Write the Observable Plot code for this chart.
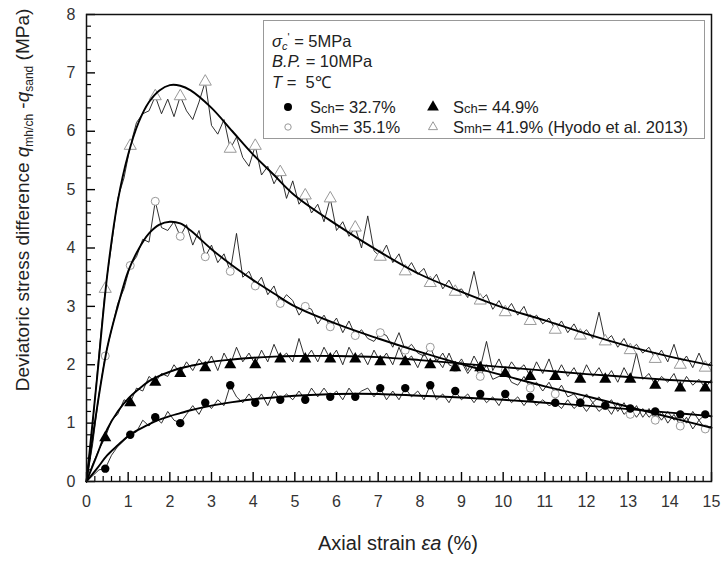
<!DOCTYPE html>
<html><head><meta charset="utf-8">
<script src="https://cdn.jsdelivr.net/npm/d3@7"></script>
<script src="https://cdn.jsdelivr.net/npm/@observablehq/plot@0.6"></script>
<style>body{margin:0;background:#fff;} svg{display:block}</style>
</head><body><div id="chart"></div>
<script>
const FONT = "'Liberation Sans', Arial, Helvetica, sans-serif";

// tick values
const xTicks = [0,1,2,3,4,5,6,7,8,9,10,11,12,13,14,15];
const yTicks = [0,1,2,3,4,5,6,7,8];
const xMinorTicks = d3.range(0, 15.001, 0.2).filter(v => Math.abs(v - Math.round(v)) > 1e-6);
const yMinorTicks = d3.range(0, 8.001, 0.2).filter(v => Math.abs(v - Math.round(v)) > 1e-6);

// measured strain grid (every 0.15 %)
const strain = d3.range(101).map(i => +(i * 0.15).toFixed(2));

// experimental traces (MPa)
const traceSmh419 = [0,1.0,2.2,3.3,4.05,4.85,5.2,5.75,6.15,6.3,
  6.35,6.6,6.3,6.55,6.25,6.6,6.35,6.2,6.5,6.85,
  6.1,5.95,6.2,5.7,5.9,5.55,5.4,5.75,5.25,5.4,
  5.1,5.3,4.85,5.15,4.75,4.9,4.6,4.75,4.45,4.85,
  4.3,4.45,4.2,4.35,4.0,4.55,3.95,3.85,4.05,3.75,
  3.9,3.6,3.75,3.55,3.65,3.4,3.55,3.3,3.45,3.25,
  3.3,3.15,3.6,3.1,3.2,2.95,3.1,2.9,3.05,2.85,
  3.0,2.75,2.85,2.7,2.8,2.6,2.75,2.55,2.7,2.5,
  2.6,2.45,2.9,2.4,2.5,2.3,2.45,2.25,2.35,2.2,
  2.3,2.1,2.25,2.05,2.35,2.0,2.15,1.95,2.2,1.95,
  2.05];
const traceSmh351 = [0,0.65,1.5,2.15,2.6,3.05,3.3,3.7,3.85,4.15,
  4.1,4.8,4.35,4.3,4.45,4.2,4.4,4.05,4.3,3.85,
  4.05,3.75,3.9,3.6,4.25,3.5,3.6,3.35,3.5,3.2,
  3.35,3.05,3.2,3.1,2.85,3.0,2.95,2.7,2.85,2.65,
  2.8,2.55,2.75,2.5,2.6,2.45,2.4,2.55,2.5,2.3,
  2.55,2.25,2.35,2.2,2.15,2.3,2.05,2.2,2.0,1.95,
  2.05,1.85,2.0,1.8,2.0,1.75,1.8,1.9,1.7,1.65,
  1.8,1.6,1.7,1.55,1.7,1.5,1.65,1.45,1.5,1.35,
  1.5,1.35,1.45,1.3,1.4,1.2,1.35,1.15,1.3,1.1,
  1.25,1.05,1.2,1.0,1.15,0.95,1.1,0.9,1.05,0.9,
  0.95];
const traceSch449 = [0,0.3,0.55,0.75,1.05,1.15,1.4,1.35,1.6,1.55,
  1.8,1.7,1.85,1.8,2.0,1.85,2.05,1.9,2.1,1.95,
  2.15,1.9,2.2,2.0,2.3,2.05,2.2,2.0,2.25,2.05,
  2.35,2.1,2.2,2.05,2.45,2.1,2.25,2.05,2.3,2.1,
  2.25,2.0,2.3,2.1,2.2,2.0,2.25,2.05,2.2,2.0,
  2.3,2.05,2.15,1.95,2.2,2.0,2.1,1.95,2.2,1.95,
  2.1,1.9,2.15,1.95,2.4,1.9,2.1,1.85,2.05,1.9,
  2.0,1.8,2.05,1.85,2.1,1.8,2.0,1.8,1.95,1.75,
  2.0,1.8,1.95,1.75,1.9,1.7,1.95,1.75,2.2,1.75,
  1.85,1.65,1.8,1.7,1.85,1.6,1.8,1.65,1.75,1.6,
  1.75];
const traceSch327 = [0,0.1,0.2,0.22,0.45,0.6,0.7,0.8,0.85,1.05,
  0.95,1.1,1.0,1.2,1.05,1.0,1.15,1.3,1.15,1.35,
  1.25,1.4,1.3,1.65,1.45,1.35,1.5,1.35,1.5,1.3,
  1.55,1.4,1.5,1.4,1.55,1.4,1.6,1.45,1.6,1.45,
  1.55,1.4,1.6,1.45,1.55,1.6,1.45,1.6,1.4,1.55,
  1.4,1.6,1.45,1.55,1.4,1.65,1.4,1.5,1.35,1.55,
  1.4,1.5,1.35,1.5,1.35,1.45,1.3,1.5,1.35,1.45,
  1.3,1.45,1.3,1.4,1.3,1.35,1.25,1.4,1.25,1.35,
  1.2,1.35,1.2,1.3,1.15,1.35,1.15,1.25,1.1,1.25,
  1.1,1.2,1.05,1.2,1.05,1.15,1.0,1.2,1.05,1.15,
  1.1];

// fitted curves
const fitStrain = [0,0.25,0.5,0.75,1,1.25,1.5,1.75,2,2.25,2.5,3,3.5,4,4.5,5,6,7,8,9,10,11,12,13,14,15];
const fitSmh419 = [0,1.75,3.55,4.8,5.6,6.15,6.5,6.7,6.79,6.78,6.7,6.4,6.0,5.6,5.25,4.9,4.4,3.95,3.55,3.25,2.98,2.76,2.53,2.32,2.14,1.99];
const fitSmh351 = [0,1.25,2.3,3.0,3.6,3.98,4.25,4.4,4.45,4.42,4.3,3.98,3.7,3.45,3.22,3.0,2.7,2.45,2.22,2.01,1.82,1.63,1.46,1.28,1.1,0.92];
const fitSch449 = [0,0.45,0.9,1.2,1.42,1.58,1.72,1.81,1.88,1.94,1.98,2.05,2.09,2.12,2.14,2.15,2.15,2.13,2.08,2.02,1.96,1.9,1.84,1.79,1.74,1.70];
const fitSch327 = [0,0.22,0.45,0.62,0.78,0.89,0.98,1.06,1.12,1.17,1.22,1.3,1.36,1.41,1.44,1.47,1.5,1.5,1.47,1.44,1.4,1.35,1.3,1.24,1.18,1.12];

const table = (xs, ys) => xs.map((x, i) => ({x, y: ys[i], i}));
const marked = rows => rows.filter(d => d.i % 4 === 3);

const tA = table(strain, traceSmh419), tB = table(strain, traceSmh351),
      tC = table(strain, traceSch449), tD = table(strain, traceSch327);

const traceStyle = {x: "x", y: "y", stroke: "#1a1a1a", strokeWidth: 0.9};
const fitStyle = {x: "x", y: "y", stroke: "#000", strokeWidth: 1.9, curve: "catmull-rom"};

const W = 724, H = 563, ML = 86, MR = 13, MT = 14, MB = 82;
const frameW = W - ML - MR, frameH = H - MT - MB;

const chart = Plot.plot({
  width: W, height: H,
  marginLeft: ML, marginRight: MR, marginTop: MT, marginBottom: MB,
  x: {domain: [0, 15]},
  y: {domain: [0, 8]},
  style: {fontFamily: FONT, fontSize: "16px", color: "#222", background: "white"},
  marks: [
    Plot.line(tA, traceStyle),
    Plot.line(tB, traceStyle),
    Plot.line(tC, traceStyle),
    Plot.line(tD, traceStyle),
    Plot.dot(marked(tA), {x: "x", y: "y", symbol: "triangle", r: 4.5, fill: "white", stroke: "#999", strokeWidth: 1}),
    Plot.dot(marked(tB), {x: "x", y: "y", symbol: "circle", r: 4, fill: "white", stroke: "#999", strokeWidth: 1}),
    Plot.line(table(fitStrain, fitSmh419), fitStyle),
    Plot.line(table(fitStrain, fitSmh351), fitStyle),
    Plot.line(table(fitStrain, fitSch449), fitStyle),
    Plot.line(table(fitStrain, fitSch327), fitStyle),
    Plot.dot(marked(tC), {x: "x", y: "y", symbol: "triangle", r: 4.5, fill: "#000"}),
    Plot.dot(marked(tD), {x: "x", y: "y", symbol: "circle", r: 4.2, fill: "#000"}),
    // inward ticks as short rules at the bottom / left frame edges
    Plot.ruleX(xMinorTicks, {x: d => d, insetTop: frameH - 5, stroke: "#000", strokeWidth: 1.2}),
    Plot.ruleX(xTicks, {x: d => d, insetTop: frameH - 9, stroke: "#000", strokeWidth: 1.4}),
    Plot.ruleY(yMinorTicks, {y: d => d, insetRight: frameW - 5, stroke: "#000", strokeWidth: 1.2}),
    Plot.ruleY(yTicks, {y: d => d, insetRight: frameW - 9, stroke: "#000", strokeWidth: 1.4}),
    Plot.axisX({ticks: xTicks, tickSize: 0, tickPadding: 14, label: null, fontSize: 16, fill: "#333"}),
    Plot.axisY({ticks: yTicks, tickSize: 0, tickPadding: 11, label: null, fontSize: 16, fill: "#333"}),
    Plot.frame({stroke: "#111", strokeWidth: 1.5})
  ]
});
document.getElementById("chart").appendChild(chart);

const svg = d3.select(chart);

// axis titles
const xt = svg.append("text").attr("x", 398).attr("y", 550).attr("text-anchor", "middle")
  .attr("font-family", FONT).attr("font-size", 20).attr("fill", "#222");
xt.append("tspan").text("Axial strain ");
xt.append("tspan").attr("font-style", "italic").text("\u03b5a");
xt.append("tspan").text(" (%)");

const yt = svg.append("text").attr("transform", "translate(29,200) rotate(-90)").attr("text-anchor", "middle")
  .attr("font-family", FONT).attr("font-size", 19).attr("fill", "#222");
yt.append("tspan").text("Deviatoric stress difference ");
yt.append("tspan").attr("font-style", "italic").text("q");
yt.append("tspan").attr("font-size", 12).attr("dy", 4).text("mh/ch");
yt.append("tspan").attr("dy", -4).text(" -");
yt.append("tspan").attr("font-style", "italic").text("q");
yt.append("tspan").attr("font-size", 12).attr("dy", 4).text("sand");
yt.append("tspan").attr("dy", -4).text(" (MPa)");

// legend box
const L = svg.append("g").attr("font-family", FONT).attr("font-size", 16.5).attr("fill", "#222")
  .attr("text-anchor", "start");
L.append("rect").attr("x", 263.5).attr("y", 20.5).attr("width", 441).attr("height", 118)
  .attr("fill", "white").attr("stroke", "#999").attr("stroke-width", 1);
let t = L.append("text").attr("x", 272).attr("y", 47);
t.append("tspan").attr("font-style", "italic").text("\u03c3");
t.append("tspan").attr("font-style", "italic").attr("font-size", 11).attr("dy", 3).text("c");
t.append("tspan").attr("font-size", 11).attr("dy", -9).text("'");
t.append("tspan").attr("dy", 6).text(" = 5MPa");
t = L.append("text").attr("x", 272).attr("y", 67);
t.append("tspan").attr("font-style", "italic").text("B.P.");
t.append("tspan").text(" = 10MPa");
t = L.append("text").attr("x", 272).attr("y", 88);
t.append("tspan").attr("font-style", "italic").text("T");
t.append("tspan").text(" =\u00a0 5\u2103");

const tri = d3.symbol(d3.symbolTriangle, 60)();
function sLabel(x, y, sub, rest) {
  const tt = L.append("text").attr("x", x).attr("y", y);
  tt.append("tspan").text("S");
  tt.append("tspan").attr("font-size", 13).text(sub);
  tt.append("tspan").text(rest);
}
L.append("circle").attr("cx", 288).attr("cy", 107).attr("r", 4).attr("fill", "#000");
sLabel(310, 113, "ch", "= 32.7%");
L.append("path").attr("d", tri).attr("transform", "translate(433,107)").attr("fill", "#000");
sLabel(453, 113, "ch", "= 44.9%");
L.append("circle").attr("cx", 288).attr("cy", 127).attr("r", 3.2).attr("fill", "white").attr("stroke", "#999");
sLabel(310, 133, "mh", "= 35.1%");
L.append("path").attr("d", d3.symbol(d3.symbolTriangle, 36)()).attr("transform", "translate(433,127)")
  .attr("fill", "white").attr("stroke", "#999");
sLabel(453, 133, "mh", "= 41.9% (Hyodo et al. 2013)");
</script>
</body></html>
